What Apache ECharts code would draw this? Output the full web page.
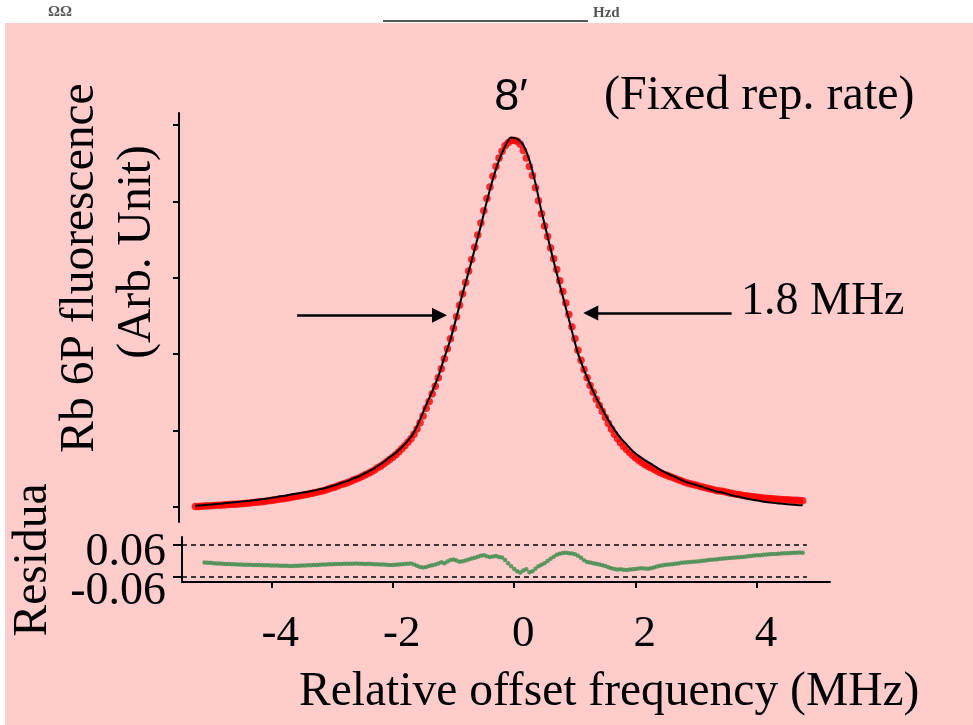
<!DOCTYPE html>
<html>
<head>
<meta charset="utf-8">
<title>Rb 6P fluorescence</title>
<script src="https://cdn.jsdelivr.net/npm/echarts@6.0.0/dist/echarts.min.js"></script>
<style>
  html, body { margin: 0; padding: 0; background: #fff; }
  #chart { width: 973px; height: 725px; }
</style>
</head>
<body>
<div id="chart"></div>
<script>
// fluorescence points, every 0.05 MHz from -5.25 to 4.75
const dataStart = -5.25
const dataStep = 0.05
const dataY = [
  0.002, 0.004, 0.007, 0.009, 0.012, 0.014, 0.016, 0.019, 0.021, 0.023,
  0.026, 0.028, 0.031, 0.034, 0.037, 0.040, 0.043, 0.046, 0.050, 0.054,
  0.058, 0.062, 0.067, 0.072, 0.077, 0.082, 0.088, 0.094, 0.100, 0.106,
  0.112, 0.119, 0.126, 0.133, 0.140, 0.148, 0.156, 0.164, 0.172, 0.180,
  0.190, 0.200, 0.210, 0.220, 0.235, 0.250, 0.260, 0.275, 0.290, 0.300,
  0.315, 0.330, 0.350, 0.365, 0.380, 0.400, 0.420, 0.440, 0.460, 0.480,
  0.510, 0.530, 0.560, 0.590, 0.620, 0.650, 0.680, 0.720, 0.760, 0.800,
  0.845, 0.890, 0.950, 1.020, 1.100, 1.190, 1.290, 1.380, 1.480, 1.580,
  1.690, 1.810, 1.940, 2.070, 2.200, 2.340, 2.490, 2.640, 2.790, 2.940,
  3.090, 3.240, 3.400, 3.560, 3.720, 3.880, 4.040, 4.190, 4.330, 4.460,
  4.570, 4.660, 4.730, 4.770, 4.800, 4.800, 4.790, 4.750, 4.670, 4.570,
  4.460, 4.340, 4.180, 4.010, 3.840, 3.680, 3.540, 3.390, 3.250, 3.110,
  2.960, 2.820, 2.670, 2.520, 2.360, 2.200, 2.050, 1.920, 1.800, 1.690,
  1.590, 1.500, 1.410, 1.330, 1.250, 1.170, 1.090, 1.020, 0.950, 0.890,
  0.840, 0.790, 0.750, 0.710, 0.670, 0.640, 0.610, 0.580, 0.555, 0.530,
  0.510, 0.490, 0.470, 0.450, 0.430, 0.415, 0.400, 0.385, 0.370, 0.355,
  0.340, 0.325, 0.310, 0.300, 0.290, 0.280, 0.270, 0.260, 0.250, 0.240,
  0.230, 0.220, 0.210, 0.205, 0.200, 0.190, 0.180, 0.175, 0.165, 0.160,
  0.150, 0.145, 0.140, 0.135, 0.130, 0.125, 0.120, 0.115, 0.110, 0.108,
  0.105, 0.100, 0.098, 0.095, 0.093, 0.090, 0.088, 0.086, 0.084, 0.082,
  0.080
]

// fitted curve, every 0.1 MHz from -5.25 to 4.75
const fitStart = -5.25
const fitStep = 0.1
const fitY = [
  0.014, 0.019, 0.026, 0.032, 0.039, 0.048, 0.055, 0.063, 0.071, 0.078,
  0.088, 0.099, 0.109, 0.122, 0.136, 0.148, 0.164, 0.176, 0.190, 0.204,
  0.220, 0.236, 0.259, 0.282, 0.312, 0.335, 0.370, 0.400, 0.442, 0.482,
  0.534, 0.586, 0.650, 0.708, 0.784, 0.865, 0.976, 1.144, 1.334, 1.512,
  1.708, 1.956, 2.192, 2.486, 2.792, 3.078, 3.376, 3.680, 4.004, 4.296,
  4.540, 4.722, 4.840, 4.820, 4.742, 4.544, 4.238, 3.868, 3.540, 3.218,
  2.906, 2.608, 2.304, 2.010, 1.794, 1.602, 1.430, 1.282, 1.136, 1.010,
  0.902, 0.818, 0.732, 0.666, 0.611, 0.564, 0.512, 0.462, 0.426, 0.390,
  0.354, 0.320, 0.296, 0.272, 0.246, 0.220, 0.196, 0.182, 0.158, 0.139,
  0.120, 0.104, 0.088, 0.076, 0.062, 0.053, 0.044, 0.035, 0.028, 0.022,
  0.018
]

// residuals, every 0.05 MHz from -5.10 to 4.75
const resStart = -5.10
const resStep = 0.05
const resY = [
  -0.006, -0.007, -0.007, -0.008, -0.009, -0.009, -0.010, -0.011, -0.011, -0.012,
  -0.012, -0.013, -0.013, -0.014, -0.014, -0.014, -0.015, -0.015, -0.015, -0.016,
  -0.016, -0.016, -0.017, -0.017, -0.017, -0.018, -0.018, -0.018, -0.019, -0.019,
  -0.018, -0.018, -0.017, -0.017, -0.016, -0.016, -0.015, -0.015, -0.014, -0.013,
  -0.013, -0.012, -0.012, -0.011, -0.011, -0.011, -0.010, -0.010, -0.010, -0.010,
  -0.009, -0.010, -0.010, -0.011, -0.010, -0.011, -0.012, -0.012, -0.013, -0.013,
  -0.014, -0.015, -0.015, -0.014, -0.013, -0.012, -0.011, -0.010, -0.009, -0.013,
  -0.018, -0.022, -0.024, -0.022, -0.019, -0.016, -0.013, -0.009, -0.005, -0.008,
  -0.002, 0.004, 0.006, 0.002, -0.003, -0.001, 0.002, 0.006, 0.009, 0.012,
  0.016, 0.020, 0.022, 0.018, 0.015, 0.017, 0.019, 0.015, 0.013, 0.004,
  -0.008, -0.020, -0.030, -0.038, -0.043, -0.036, -0.031, -0.042, -0.038, -0.029,
  -0.020, -0.014, -0.008, 0.000, 0.008, 0.016, 0.023, 0.027, 0.030, 0.031,
  0.029, 0.028, 0.025, 0.020, 0.012, 0.003, -0.004, -0.006, -0.008, -0.010,
  -0.013, -0.016, -0.019, -0.023, -0.027, -0.030, -0.032, -0.031, -0.033, -0.034,
  -0.032, -0.031, -0.030, -0.028, -0.027, -0.028, -0.029, -0.027, -0.024, -0.021,
  -0.018, -0.016, -0.014, -0.013, -0.012, -0.010, -0.009, -0.007, -0.006, -0.005,
  -0.004, -0.003, -0.002, -0.001, 0.001, 0.002, 0.004, 0.005, 0.006, 0.007,
  0.008, 0.009, 0.010, 0.011, 0.012, 0.013, 0.014, 0.015, 0.016, 0.018,
  0.019, 0.021, 0.022, 0.022, 0.023, 0.024, 0.025, 0.026, 0.026, 0.027,
  0.028, 0.029, 0.029, 0.030, 0.031, 0.031, 0.032, 0.031
]

const xTicks = [-4, -2, 0, 2, 4]
const yTicksMain = [0, 1, 2, 3, 4, 5]
const resTicks = [-0.06, 0.06]
const resLimit = 0.06

// FWHM arrows (MHz, arb. unit)
const arrowLeft = [[-3.575, 2.51], [-1.23, 2.51]]
const arrowRight = [[3.58, 2.54], [1.26, 2.54]]

const serif = '"Liberation Serif", "Times New Roman", serif'
const sans = '"Liberation Sans", Arial, sans-serif'

function toPairs(start, step, ys) {
  return ys.map((v, i) => [+(start + i * step).toFixed(2), v])
}

const chart = echarts.init(document.getElementById('chart'))

const blackLine = { color: '#000', width: 2 }

chart.setOption({
  backgroundColor: '#fff',
  animation: false,
  grid: [
    { left: 182, top: 113, width: 648, height: 409 },
    { left: 182, top: 537, width: 648, height: 45 }
  ],
  xAxis: [
    { gridIndex: 0, type: 'value', min: -5.47, max: 5.2, show: false },
    {
      gridIndex: 1,
      type: 'value',
      min: -5.47,
      max: 5.2,
      axisLine: { show: true, onZero: false, lineStyle: blackLine },
      axisTick: { show: true, customValues: xTicks, length: 6, lineStyle: blackLine },
      axisLabel: {
        customValues: xTicks,
        margin: 30,
        color: '#000',
        fontFamily: serif,
        fontSize: 45,
        padding: [0, 0, 0, 18]
      },
      splitLine: { show: false }
    }
  ],
  yAxis: [
    {
      gridIndex: 0,
      type: 'value',
      min: -0.2,
      max: 5.16,
      offset: 3,
      axisLine: { show: true, onZero: false, lineStyle: blackLine },
      axisTick: { show: true, customValues: yTicksMain, length: 6, lineStyle: blackLine },
      axisLabel: { show: false },
      splitLine: { show: false }
    },
    {
      gridIndex: 1,
      type: 'value',
      min: -0.0787,
      max: 0.09,
      axisLine: { show: true, onZero: false, lineStyle: blackLine },
      axisTick: { show: true, customValues: resTicks, length: 9, lineStyle: blackLine },
      axisLabel: { show: false },
      splitLine: { show: false }
    }
  ],
  series: [
    {
      name: 'data',
      type: 'scatter',
      xAxisIndex: 0,
      yAxisIndex: 0,
      symbol: 'circle',
      symbolSize: 7.5,
      itemStyle: { color: '#ff0000' },
      data: toPairs(dataStart, dataStep, dataY),
      z: 2
    },
    {
      name: 'fit',
      type: 'line',
      xAxisIndex: 0,
      yAxisIndex: 0,
      smooth: 0.3,
      showSymbol: false,
      lineStyle: { color: '#000', width: 2 },
      data: toPairs(fitStart, fitStep, fitY),
      z: 3,
      markLine: {
        silent: true,
        symbol: ['none', 'triangle'],
        symbolSize: [15, 15],
        label: { show: false },
        lineStyle: { color: '#000', width: 2.5, type: 'solid' },
        itemStyle: { color: '#000' },
        data: [
          [{ coord: arrowLeft[0] }, { coord: arrowLeft[1] }],
          [{ coord: arrowRight[0] }, { coord: arrowRight[1] }]
        ]
      }
    },
    {
      name: 'residua',
      type: 'scatter',
      xAxisIndex: 1,
      yAxisIndex: 1,
      symbol: 'circle',
      symbolSize: 4.5,
      itemStyle: { color: '#3a8a4a' },
      data: toPairs(resStart, resStep, resY),
      markLine: {
        silent: true,
        symbol: 'none',
        label: { show: false },
        lineStyle: { color: '#000', width: 1.5, type: [5, 4] },
        data: [
          [{ coord: [-5.47, resLimit] }, { coord: [4.82, resLimit] }],
          [{ coord: [-5.47, -resLimit] }, { coord: [4.82, -resLimit] }]
        ]
      }
    }
  ],
  graphic: [
    // pink slide background
    { type: 'rect', z: -10, silent: true, shape: { x: 5, y: 23, width: 968, height: 702 }, style: { fill: '#ffcccc' } },
    // scraps left over at the top of the slide
    { type: 'text', x: 48, y: 12, style: { text: 'ΩΩ', font: 'bold 15px ' + serif, fill: '#555', verticalAlign: 'middle' } },
    { type: 'line', shape: { x1: 383, y1: 21, x2: 588, y2: 21 }, style: { stroke: '#555', lineWidth: 2 } },
    { type: 'text', x: 593, y: 13, style: { text: 'Hzd', font: 'bold 15px ' + serif, fill: '#555', verticalAlign: 'middle' } },
    // titles
    { type: 'text', x: 511, y: 98, style: { text: '8′', font: '45px ' + sans, fill: '#000', align: 'center', verticalAlign: 'middle' } },
    { type: 'text', x: 604, y: 96, style: { text: '(Fixed rep. rate)', font: '48px ' + serif, fill: '#000', align: 'left', verticalAlign: 'middle' } },
    { type: 'text', x: 741, y: 302, style: { text: '1.8 MHz', font: '46px ' + serif, fill: '#000', align: 'left', verticalAlign: 'middle' } },
    { type: 'text', x: 299, y: 693, style: { text: 'Relative offset frequency (MHz)', font: '47.5px ' + serif, fill: '#000', align: 'left', verticalAlign: 'middle' } },
    { type: 'text', x: 81, y: 268, rotation: Math.PI / 2, style: { text: 'Rb 6P fluorescence', font: '47.5px ' + serif, fill: '#000', align: 'center', verticalAlign: 'middle' } },
    { type: 'text', x: 138, y: 252, rotation: Math.PI / 2, style: { text: '(Arb. Unit)', font: '47.5px ' + serif, fill: '#000', align: 'center', verticalAlign: 'middle' } },
    { type: 'text', x: 34, y: 560, rotation: Math.PI / 2, style: { text: 'Residua', font: '47.5px ' + serif, fill: '#000', align: 'center', verticalAlign: 'middle' } },
    // residual tick labels
    { type: 'text', x: 166, y: 553, style: { text: '0.06', font: '46px ' + serif, fill: '#000', align: 'right', verticalAlign: 'middle' } },
    { type: 'text', x: 166, y: 592, style: { text: '-0.06', font: '46px ' + serif, fill: '#000', align: 'right', verticalAlign: 'middle' } }
  ]
})
</script>
</body>
</html>
